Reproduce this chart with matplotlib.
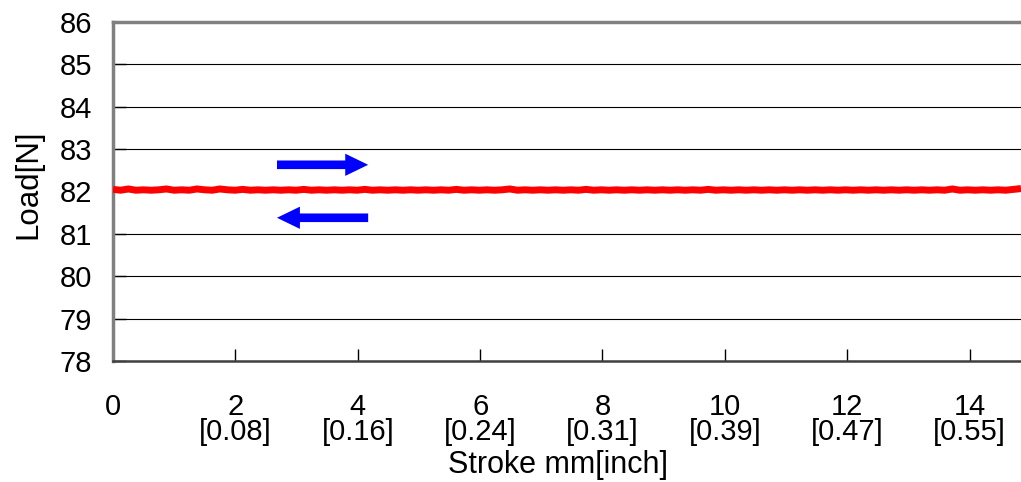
import numpy as np
import matplotlib
matplotlib.use("Agg")
import matplotlib.pyplot as plt
from matplotlib.patches import FancyArrowPatch

plt.rcParams['font.family'] = ['Liberation Sans', 'DejaVu Sans']

# Data
stroke_ticks = [0, 2, 4, 6, 8, 10, 12, 14]
stroke_inch = ["", "[0.08]", "[0.16]", "[0.24]", "[0.31]", "[0.39]", "[0.47]", "[0.55]"]
load_ticks = [78, 79, 80, 81, 82, 83, 84, 85, 86]
load_values = [
    82.05, 82.03, 82.06, 82.03, 82.04, 82.03, 82.04, 82.06, 82.03, 82.04,
    82.03, 82.06, 82.04, 82.03, 82.06, 82.04, 82.03, 82.05, 82.03, 82.04,
    82.03, 82.04, 82.03, 82.04, 82.03, 82.05, 82.03, 82.04, 82.03, 82.04,
    82.03, 82.04, 82.03, 82.05, 82.03, 82.04, 82.03, 82.04, 82.03, 82.04,
    82.03, 82.04, 82.03, 82.04, 82.03, 82.05, 82.03, 82.04, 82.03, 82.04,
    82.03, 82.04, 82.06, 82.03, 82.04, 82.03, 82.04, 82.03, 82.04, 82.03,
    82.04, 82.03, 82.05, 82.03, 82.04, 82.03, 82.04, 82.03, 82.04, 82.03,
    82.04, 82.03, 82.04, 82.03, 82.04, 82.03, 82.04, 82.03, 82.05, 82.03,
    82.04, 82.03, 82.04, 82.03, 82.04, 82.03, 82.04, 82.03, 82.04, 82.03,
    82.04, 82.03, 82.04, 82.03, 82.04, 82.03, 82.04, 82.03, 82.04, 82.03,
    82.04, 82.03, 82.04, 82.03, 82.04, 82.03, 82.04, 82.03, 82.04, 82.03,
    82.06, 82.03, 82.04, 82.03, 82.04, 82.03, 82.04, 82.03, 82.05, 82.07,
]
stroke_positions = np.linspace(0, 14.84, len(load_values))

# arrow positions (stroke start, stroke end, load)
arrow_fwd = (2.68, 4.17, 82.63)
arrow_back = (4.17, 2.68, 81.38)

fig = plt.figure(figsize=(10.21, 4.82), dpi=100)
ax = fig.add_axes([0.1107, 0.251, 0.8893, 0.7034])

ax.plot(stroke_positions, load_values, color='#ff0000', lw=5, solid_capstyle='butt',
        solid_joinstyle='miter', zorder=3)

for (x0, x1, y) in (arrow_fwd, arrow_back):
    arr = FancyArrowPatch((x0, y), (x1, y),
                          arrowstyle='simple,head_length=1.65,head_width=1.6,tail_width=0.62',
                          mutation_scale=10, color='#0000ff', lw=0,
                          shrinkA=0, shrinkB=0, zorder=4)
    ax.add_patch(arr)

ax.set_xlim(0, 14.84)
ax.set_ylim(78, 86)
ax.set_yticks(load_ticks)
ax.set_xticks(stroke_ticks)
ax.set_xticklabels([f"{t}\n{s}" for t, s in zip(stroke_ticks, stroke_inch)],
                   linespacing=0.88)
ax.grid(axis='y', color='black', lw=0.8)
ax.set_axisbelow(True)

for side in ('top', 'right'):
    ax.spines[side].set_visible(False)
ax.spines['left'].set_color('#808080')
ax.spines['left'].set_linewidth(2.5)
ax.spines['bottom'].set_color('#404040')
ax.spines['bottom'].set_linewidth(1.8)
ax.axhline(86, color='#808080', lw=2.5, clip_on=False)

ax.tick_params(axis='both', direction='in', length=9, width=1, colors='black',
               labelsize=21)
ax.tick_params(axis='y', pad=15)
ax.tick_params(axis='x', pad=23)

ax.set_ylabel('Load[N]', fontsize=22.5)
ax.yaxis.set_label_coords(-0.077, 0.52)
ax.set_xlabel('Stroke mm[inch]', fontsize=22)
ax.xaxis.set_label_coords(0.49, -0.262)

fig.savefig('out.png', dpi=100)
